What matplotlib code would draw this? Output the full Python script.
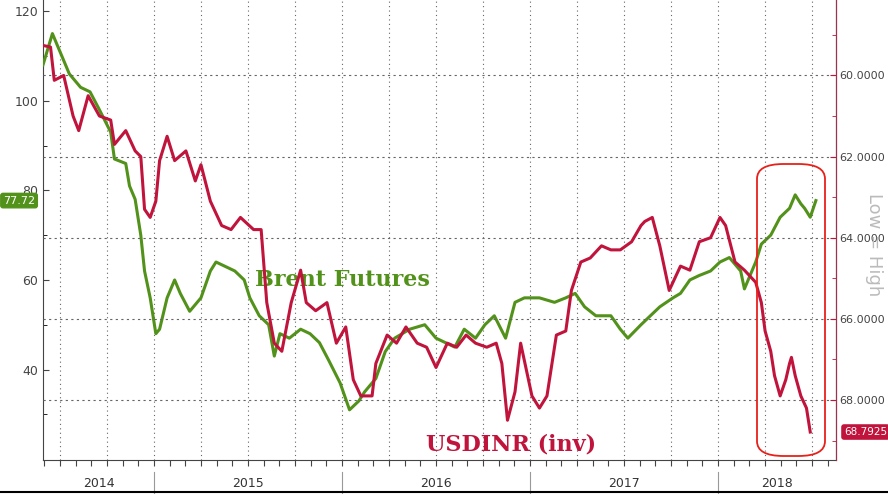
import matplotlib
matplotlib.use("Agg")
import matplotlib.pyplot as plt
from matplotlib.patches import FancyBboxPatch

brent_t = [2014.41,2014.46,2014.51,2014.55,2014.61,2014.66,2014.71,2014.77,2014.79,2014.85,2014.87,2014.90,2014.93,2014.95,2014.98,
           2015.01,2015.03,2015.07,2015.11,2015.14,2015.19,2015.25,2015.30,2015.33,2015.38,2015.43,2015.48,2015.51,2015.56,2015.61,2015.64,2015.67,2015.72,2015.78,2015.83,2015.88,2015.93,2015.99,
           2016.04,2016.09,2016.12,2016.18,2016.23,2016.28,2016.36,2016.44,2016.50,2016.55,2016.60,2016.65,2016.71,2016.76,2016.81,2016.87,2016.92,2016.97,
           2017.05,2017.13,2017.19,2017.24,2017.29,2017.35,2017.43,2017.48,2017.52,2017.59,2017.64,2017.69,2017.76,2017.80,2017.85,2017.90,2017.96,
           2018.01,2018.06,2018.12,2018.14,2018.20,2018.23,2018.28,2018.33,2018.38,2018.41,2018.44,2018.46,2018.49,2018.52]
brent_v = [108,115,110,106,103,102,98,93,87,86,81,78,70,62,56,
           48,49,56,60,57,53,56,62,64,63,62,60,56,52,50,43,48,47,49,48,46,42,37,
           31,33,35,38,44,47,49,50,47,46,45,49,47,50,52,47,55,56,
           56,55,56,57,54,52,52,49,47,50,52,54,56,57,60,61,62,
           64,65,62,58,64,68,70,74,76,79,77,76,74,77.72]

inr_t = [2014.41,2014.45,2014.47,2014.52,2014.57,2014.60,2014.65,2014.71,2014.77,2014.79,2014.85,2014.90,2014.93,2014.95,2014.98,
         2015.01,2015.03,2015.07,2015.11,2015.17,2015.22,2015.25,2015.30,2015.36,2015.41,2015.46,2015.53,2015.57,2015.60,2015.64,2015.68,2015.73,2015.78,2015.81,2015.86,2015.92,2015.97,
         2016.02,2016.06,2016.10,2016.16,2016.18,2016.24,2016.29,2016.34,2016.40,2016.45,2016.50,2016.56,2016.61,2016.66,2016.71,2016.77,2016.82,2016.85,2016.88,2016.92,2016.95,2017.01,2017.05,
         2017.09,2017.14,2017.19,2017.22,2017.27,2017.32,2017.38,2017.43,2017.48,2017.54,2017.59,2017.61,2017.65,2017.69,2017.74,2017.80,2017.85,2017.90,2017.96,
         2018.01,2018.04,2018.09,2018.14,2018.18,2018.20,2018.23,2018.25,2018.28,2018.30,2018.33,2018.36,2018.38,2018.39,2018.41,2018.44,2018.47,2018.49]
inr_v = [59.26,59.3,60.12,60.0,61.0,61.36,60.5,61.0,61.1,61.7,61.36,61.86,62.0,63.3,63.5,
         63.1,62.1,61.5,62.1,61.86,62.6,62.2,63.1,63.7,63.8,63.5,63.8,63.8,65.6,66.6,66.8,65.6,64.8,65.6,65.8,65.6,66.6,
         66.2,67.5,67.9,67.9,67.1,66.4,66.6,66.2,66.6,66.7,67.2,66.6,66.7,66.4,66.6,66.7,66.6,67.1,68.5,67.8,66.6,67.9,68.2,
         67.9,66.4,66.3,65.3,64.6,64.5,64.2,64.3,64.3,64.1,63.7,63.6,63.5,64.2,65.3,64.7,64.8,64.1,64.0,
         63.5,63.7,64.6,64.8,65.0,65.1,65.6,66.3,66.8,67.4,67.9,67.5,67.1,66.95,67.4,67.9,68.2,68.79]

years = [2014, 2015, 2016, 2017, 2018]
left_ticks = [40, 60, 80, 100, 120]
right_ticks = [60, 62, 64, 66, 68]

GREEN = "#52921a"
RED = "#c0143c"
XMIN, XMAX = 2014.41, 2018.627

fig = plt.figure(figsize=(8.88, 4.94), dpi=100)
ax = fig.add_axes([43/888, 34/494, 793/888, 460/494])
ax2 = ax.twinx()

ax.plot(brent_t, brent_v, color=GREEN, lw=2.2, zorder=3)
ax2.plot(inr_t, inr_v, color=RED, lw=2.2, zorder=2)

ax.set_xlim(XMIN, XMAX)
ax.set_ylim(19.8, 122.5)
ax2.set_ylim(69.48, 58.14)

ax.set_yticks(left_ticks)
ax.set_yticks([30, 50, 70, 90, 110], minor=True)
ax2.set_yticks(right_ticks)
ax2.set_yticks([59, 61, 63, 65, 67, 69], minor=True)
ax2.set_yticklabels([f"{v:.4f}" for v in right_ticks])
ax.tick_params(axis="y", labelsize=9, colors="#444444", length=4, direction="in")
ax.tick_params(axis="y", which="minor", length=3, direction="in")
ax2.tick_params(axis="y", labelsize=8, colors="#444444", length=4, direction="in", pad=2)
ax2.tick_params(axis="y", which="minor", length=3, direction="in", color=RED)
ax2.tick_params(axis="y", which="major", color=RED)

quarters = [y + q/4 for y in range(2014, 2019) for q in range(4) if XMIN < y + q/4 < XMAX]
months = [y + m/12 for y in range(2014, 2019) for m in range(12) if XMIN < y + m/12 < XMAX]
ax.set_xticks(months)
ax.set_xticklabels([])
ax.tick_params(axis="x", length=4, direction="out", colors="#444444")
for q in quarters:
    ax.axvline(q, color="#666666", ls=(0, (1, 3)), lw=0.8, zorder=0)
for r in right_ticks:
    ax2.axhline(r, color="#666666", ls=(0, (2, 3)), lw=0.8, zorder=0)

for s in ["top"]:
    ax.spines[s].set_visible(False)
    ax2.spines[s].set_visible(False)
ax.spines["left"].set_color("#444444")
ax.spines["bottom"].set_color("#444444")
ax2.spines["right"].set_color("#a03050")
ax2.spines["left"].set_visible(False)
ax2.spines["bottom"].set_visible(False)

for y in years:
    a, b = max(y, XMIN), min(y + 1, XMAX)
    ax.text((a + b) / 2, -0.05, str(y), transform=ax.get_xaxis_transform(),
            ha="center", va="center", fontsize=9, color="#333333")
    if y > 2014:
        ax.plot([y, y], [-0.025, -0.075], transform=ax.get_xaxis_transform(),
                color="#999999", lw=0.8, clip_on=False)
fig.add_artist(plt.Line2D([0, 1], [2/494, 2/494], color="black", lw=1.5))

ax.text(2016.0, 60, "Brent Futures", color=GREEN, fontsize=16, fontweight="bold",
        family="DejaVu Serif", ha="center", va="center")
ax2.text(2016.9, 69.1, "USDINR (inv)", color=RED, fontsize=16, fontweight="bold",
         family="DejaVu Serif", ha="center", va="center")

box = FancyBboxPatch((757/888, 38/494), 68/888, 292/494, transform=fig.transFigure,
                     boxstyle="round,pad=0,rounding_size=0.03", fill=False,
                     ec="#e8201a", lw=1.3)
fig.add_artist(box)

fig.text(874/888, 1 - 245/494, "Low = High", rotation=-90, color="#bbbbbb",
         fontsize=13, ha="center", va="center")

ax.annotate("77.72", xy=(0, 77.72), xycoords=("axes fraction", "data"),
            xytext=(-40, 0), textcoords="offset pixels", ha="left", va="center",
            fontsize=8, color="white", zorder=5,
            bbox=dict(boxstyle="round,pad=0.2", fc=GREEN, ec=GREEN))
ax2.annotate("68.7925", xy=(1, 68.79), xycoords=("axes fraction", "data"),
             xytext=(8, 0), textcoords="offset pixels", ha="left", va="center",
             fontsize=7.5, color="white",
             bbox=dict(boxstyle="round,pad=0.2", fc=RED, ec=RED))

fig.savefig("out.png", dpi=100)
